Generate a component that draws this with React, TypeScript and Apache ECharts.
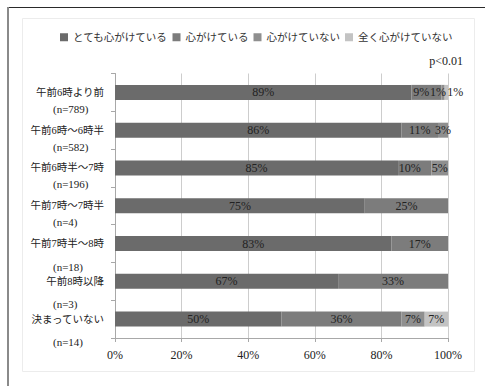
import React, { useEffect, useRef } from "react";
import * as echarts from "echarts";

// Wake-up time groups with their sample sizes
const categories = [
  "午前6時より前",
  "午前6時～6時半",
  "午前6時半～7時",
  "午前7時～7時半",
  "午前7時半～8時",
  "午前8時以降",
  "決まっていない",
];
const sampleSizes = ["(n=789)", "(n=582)", "(n=196)", "(n=4)", "(n=18)", "(n=3)", "(n=14)"];

// Response categories (share of respondents, %)
const seriesNames = ["とても心がけている", "心がけている", "心がけていない", "全く心がけていない"];
const veryMindful = [89, 86, 85, 75, 83, 67, 50];
const mindful = [9, 11, 10, 25, 17, 33, 36];
const notMindful = [1, 3, 5, 0, 0, 0, 7];
const notAtAll = [1, 0, 0, 0, 0, 0, 7];

const xTicks = { min: 0, max: 100, interval: 20 };
const significance = "p<0.01";

const FONT = '"Liberation Serif", "Noto Sans CJK JP", serif';
const COLORS = ["#6b6b6b", "#7c7c7c", "#8f8f8f", "#c3c3c3"];
const TEXT = "#222222";

// Nudges for labels of narrow segments so they don't pile up
const labelNudges: Record<string, number[]> = {
  "1-0": [-5, 0],
  "2-0": [-5, 0],
  "3-0": [9, 0],
  "1-2": [-5, 0],
};

export default function App() {
  const ref = useRef<HTMLDivElement>(null);

  useEffect(() => {
    if (!ref.current) return;
    const chart = echarts.init(ref.current, undefined, { renderer: "svg" });
    const allSeries = [veryMindful, mindful, notMindful, notAtAll];

    const series = allSeries.map((vals, s) => ({
      name: seriesNames[s],
      type: "bar",
      stack: "total",
      barWidth: 15,
      itemStyle: { color: COLORS[s] },
      label: {
        show: true,
        position: "inside",
        color: TEXT,
        fontSize: 12,
        fontFamily: FONT,
        formatter: (p: any) => (p.value ? `${p.value}%` : ""),
      },
      data: vals.map((v, i) => {
        const off = labelNudges[`${s}-${i}`];
        return off ? { value: v, label: { offset: off } } : v;
      }),
    }));

    chart.setOption({
      animation: false,
      backgroundColor: "#ffffff",
      title: {
        text: significance,
        right: 22,
        top: 55,
        padding: 0,
        textStyle: { fontSize: 12, fontWeight: "normal", fontFamily: FONT, color: TEXT },
      },
      legend: {
        data: seriesNames,
        left: 60,
        top: 32,
        padding: 0,
        icon: "rect",
        itemWidth: 8,
        itemHeight: 8,
        itemGap: 5,
        textStyle: { fontSize: 10.5, fontFamily: FONT, color: "#333333" },
      },
      grid: { left: 115, right: 37, top: 73.5, bottom: 48, containLabel: false },
      xAxis: {
        type: "value",
        min: xTicks.min,
        max: xTicks.max,
        interval: xTicks.interval,
        axisLine: { show: true, lineStyle: { color: "#a8a8a8" } },
        axisTick: { show: true, length: 4, lineStyle: { color: "#a8a8a8" } },
        splitLine: { show: true, lineStyle: { color: "#cdcdcd" } },
        axisLabel: {
          formatter: "{value}%",
          fontSize: 12,
          fontFamily: FONT,
          color: TEXT,
          margin: 11,
        },
      },
      yAxis: {
        type: "category",
        data: categories,
        inverse: true,
        axisLine: { show: true, lineStyle: { color: "#a8a8a8" } },
        axisTick: { show: true, length: 4, lineStyle: { color: "#a8a8a8" } },
        axisLabel: {
          interval: 0,
          showMinLabel: true,
          showMaxLabel: true,
          hideOverlap: false,
          margin: 11,
          align: "right",
          width: 76,
          overflow: "none",
          formatter: (v: string, i: number) => {
            const wide = i >= 4;
            return `{${wide ? "padw" : "pad"}| }\n{name|${v}}\n{${wide ? "nw" : "n"}|${sampleSizes[i]}}`;
          },
          rich: {
            pad: { fontSize: 8, lineHeight: 17 },
            padw: { fontSize: 8, lineHeight: 30 },
            name: { fontSize: 10.5, lineHeight: 16, fontFamily: FONT, color: TEXT },
            n: {
              fontSize: 11,
              lineHeight: 17,
              fontFamily: FONT,
              color: TEXT,
              align: "left",
              padding: [0, 0, 0, 25],
            },
            nw: {
              fontSize: 11,
              lineHeight: 30,
              fontFamily: FONT,
              color: TEXT,
              align: "left",
              padding: [0, 0, 0, 25],
            },
          },
        },
      },
      graphic: [
        {
          type: "rect",
          z: -10,
          shape: { x: 22.5, y: 18.5, width: 452, height: 353 },
          style: { fill: "#ffffff", stroke: "#ececec", lineWidth: 1 },
        },
        {
          type: "line",
          shape: { x1: 7, y1: 7.5, x2: 485, y2: 7.5 },
          style: { stroke: "#2a2a2a", lineWidth: 1 },
        },
        {
          type: "line",
          shape: { x1: 8, y1: 7, x2: 8, y2: 386 },
          style: { stroke: "#8a8a8a", lineWidth: 2 },
        },
      ],
      series,
    });

    return () => chart.dispose();
  }, []);

  return (
    <div
      ref={ref}
      style={{ position: "fixed", left: 0, top: 0, width: 485, height: 386 }}
    />
  );
}
